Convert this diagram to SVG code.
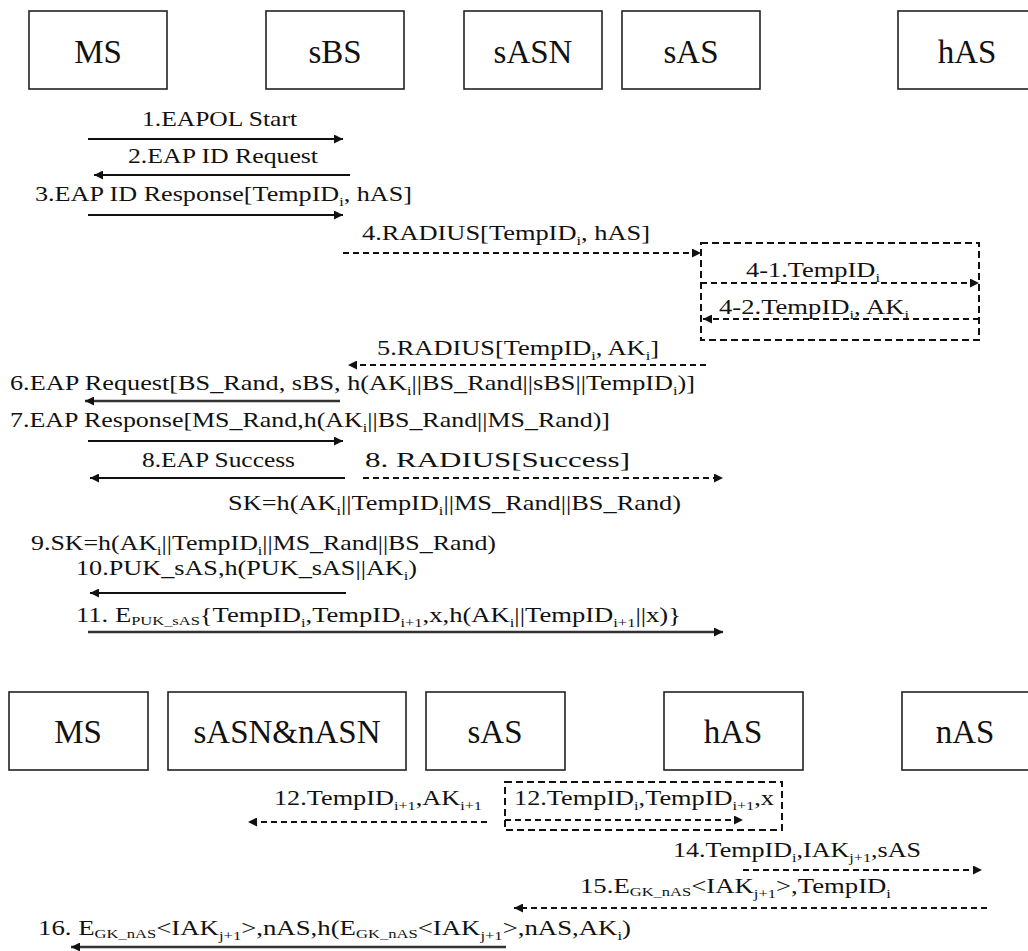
<svg xmlns="http://www.w3.org/2000/svg" width="1028" height="951" viewBox="0 0 1028 951">
<defs>
<marker id="ah" viewBox="0 0 10 10" refX="10" refY="5" markerWidth="11" markerHeight="9" markerUnits="userSpaceOnUse" orient="auto"><path d="M0,0 L10,5 L0,10 z" fill="#111"/></marker>
<style>
text{font-family:'Liberation Serif','DejaVu Serif','Times New Roman',serif}
.box{fill:#fff;stroke:#222;stroke-width:1.6}
.lbl{font-size:33px;fill:#111;text-anchor:middle}
.msg{font-size:21px;fill:#111}
.sub{font-size:13px}
.sc{font-size:13px}
.solid{stroke:#111;stroke-width:2;fill:none;marker-end:url(#ah)}
.thick{stroke:#333;stroke-width:2.6}
.dash{stroke:#111;stroke-width:2;fill:none;stroke-dasharray:6 4;marker-end:url(#ah)}
.dbox{fill:none;stroke:#111;stroke-width:2;stroke-dasharray:7 4}
</style>
</defs>
<rect width="1028" height="951" fill="#fff"/>

<g id="top-MS"><rect class="box" x="29" y="11" width="138" height="78"/><text class="lbl" x="98" y="63">MS</text></g>
<g id="top-sBS"><rect class="box" x="266" y="11" width="138" height="78"/><text class="lbl" x="335" y="63">sBS</text></g>
<g id="top-sASN"><rect class="box" x="464" y="11" width="138" height="78"/><text class="lbl" x="533" y="63">sASN</text></g>
<g id="top-sAS"><rect class="box" x="622" y="11" width="138" height="78"/><text class="lbl" x="691" y="63">sAS</text></g>
<g id="top-hAS"><rect class="box" x="898" y="11" width="138" height="78"/><text class="lbl" x="967" y="63">hAS</text></g>

<g id="bot-MS"><rect class="box" x="9" y="692" width="139" height="78"/><text class="lbl" x="78" y="743">MS</text></g>
<g id="bot-sASNnASN"><rect class="box" x="168" y="692" width="238" height="78"/><text class="lbl" x="287" y="743">sASN&amp;nASN</text></g>
<g id="bot-sAS"><rect class="box" x="426" y="692" width="139" height="78"/><text class="lbl" x="495" y="743">sAS</text></g>
<g id="bot-hAS"><rect class="box" x="664" y="692" width="139" height="78"/><text class="lbl" x="733" y="743">hAS</text></g>
<g id="bot-nAS"><rect class="box" x="902" y="692" width="139" height="78"/><text class="lbl" x="965" y="743">nAS</text></g>

<g id="groups">
<rect class="dbox" x="701" y="243" width="278" height="97"/>
<rect class="dbox" x="505" y="782" width="277" height="48"/>
</g>

<g id="connectors">
<line class="solid" x1="88" y1="139" x2="343" y2="139"/>
<line class="solid" x1="350" y1="175" x2="94" y2="175"/>
<line class="solid" x1="88" y1="215" x2="343" y2="215"/>
<line class="dash" x1="343" y1="253" x2="701" y2="253"/>
<line class="dash" x1="701" y1="283" x2="979" y2="283"/>
<line class="dash" x1="979" y1="319" x2="703" y2="319"/>
<line class="dash" x1="706" y1="365" x2="348" y2="365"/>
<line class="solid thick" x1="340" y1="401" x2="85" y2="401"/>
<line class="solid" x1="88" y1="441" x2="343" y2="441"/>
<line class="solid" x1="345" y1="478" x2="90" y2="478"/>
<line class="dash" x1="363" y1="478" x2="723" y2="478"/>
<line class="solid" x1="346" y1="593" x2="90" y2="593"/>
<line class="solid thick" x1="88" y1="632" x2="723" y2="632"/>
<line class="dash" x1="487" y1="822" x2="248" y2="822"/>
<line class="dash" x1="505" y1="820" x2="743" y2="820"/>
<line class="dash" x1="743" y1="870" x2="982" y2="870"/>
<line class="dash" x1="987" y1="908" x2="514" y2="908"/>
<line class="solid thick" x1="506" y1="947" x2="71" y2="947"/>
</g>

<g id="labels">
<text class="msg" x="142" y="126" textLength="155" lengthAdjust="spacingAndGlyphs">1.EAPOL Start</text>
<text class="msg" x="128" y="163" textLength="190" lengthAdjust="spacingAndGlyphs">2.EAP ID Request</text>
<text class="msg" x="35" y="201" textLength="377" lengthAdjust="spacingAndGlyphs">3.EAP ID Response[TempID<tspan class="sub" dy="5">i</tspan><tspan dy="-5">, hAS]</tspan></text>
<text class="msg" x="362" y="240" textLength="288" lengthAdjust="spacingAndGlyphs">4.RADIUS[TempID<tspan class="sub" dy="5">i</tspan><tspan dy="-5">, hAS]</tspan></text>
<text class="msg" x="746" y="277" textLength="134" lengthAdjust="spacingAndGlyphs">4-1.TempID<tspan class="sub" dy="5">i</tspan></text>
<text class="msg" x="719" y="314" textLength="190" lengthAdjust="spacingAndGlyphs">4-2.TempID<tspan class="sub" dy="5">i</tspan><tspan dy="-5">, AK</tspan><tspan class="sub" dy="5">i</tspan></text>
<text class="msg" x="377" y="355" textLength="282" lengthAdjust="spacingAndGlyphs">5.RADIUS[TempID<tspan class="sub" dy="5">i</tspan><tspan dy="-5">, AK</tspan><tspan class="sub" dy="5">i</tspan><tspan dy="-5">]</tspan></text>
<text class="msg" x="10" y="390" textLength="685" lengthAdjust="spacingAndGlyphs">6.EAP Request[BS_Rand, sBS, h(AK<tspan class="sub" dy="5">i</tspan><tspan dy="-5">||BS_Rand||sBS||TempID</tspan><tspan class="sub" dy="5">i</tspan><tspan dy="-5">)]</tspan></text>
<text class="msg" x="10" y="427" textLength="600" lengthAdjust="spacingAndGlyphs">7.EAP Response[MS_Rand,h(AK<tspan class="sub" dy="5">i</tspan><tspan dy="-5">||BS_Rand||MS_Rand)]</tspan></text>
<text class="msg" x="142" y="467" textLength="153" lengthAdjust="spacingAndGlyphs">8.EAP Success</text>
<text class="msg" x="365" y="467" textLength="265" lengthAdjust="spacingAndGlyphs">8. RADIUS[Success]</text>
<text class="msg" x="228" y="510" textLength="453" lengthAdjust="spacingAndGlyphs">SK=h(AK<tspan class="sub" dy="5">i</tspan><tspan dy="-5">||TempID</tspan><tspan class="sub" dy="5">i</tspan><tspan dy="-5">||MS_Rand||BS_Rand)</tspan></text>
<text class="msg" x="31" y="550" textLength="465" lengthAdjust="spacingAndGlyphs">9.SK=h(AK<tspan class="sub" dy="5">i</tspan><tspan dy="-5">||TempID</tspan><tspan class="sub" dy="5">i</tspan><tspan dy="-5">||MS_Rand||BS_Rand)</tspan></text>
<text class="msg" x="76" y="575" textLength="341" lengthAdjust="spacingAndGlyphs">10.PUK_sAS,h(PUK_sAS||AK<tspan class="sub" dy="5">i</tspan><tspan dy="-5">)</tspan></text>
<text class="msg" x="76" y="622" textLength="605" lengthAdjust="spacingAndGlyphs">11. E<tspan class="sc" dy="3">PUK_sAS</tspan><tspan dy="-3">{TempID</tspan><tspan class="sub" dy="5">i</tspan><tspan dy="-5">,TempID</tspan><tspan class="sub" dy="5">i+1</tspan><tspan dy="-5">,x,h(AK</tspan><tspan class="sub" dy="5">i</tspan><tspan dy="-5">||TempID</tspan><tspan class="sub" dy="5">i+1</tspan><tspan dy="-5">||x)}</tspan></text>
<text class="msg" x="274" y="805" textLength="208" lengthAdjust="spacingAndGlyphs">12.TempID<tspan class="sub" dy="5">i+1</tspan><tspan dy="-5">,AK</tspan><tspan class="sub" dy="5">i+1</tspan></text>
<text class="msg" x="514" y="805" textLength="260" lengthAdjust="spacingAndGlyphs">12.TempID<tspan class="sub" dy="5">i</tspan><tspan dy="-5">,TempID</tspan><tspan class="sub" dy="5">i+1</tspan><tspan dy="-5">,x</tspan></text>
<text class="msg" x="673" y="857" textLength="248" lengthAdjust="spacingAndGlyphs">14.TempID<tspan class="sub" dy="5">i</tspan><tspan dy="-5">,IAK</tspan><tspan class="sub" dy="5">j+1</tspan><tspan dy="-5">,sAS</tspan></text>
<text class="msg" x="580" y="893" textLength="311" lengthAdjust="spacingAndGlyphs">15.E<tspan class="sc" dy="3">GK_nAS</tspan><tspan dy="-3">&lt;IAK</tspan><tspan class="sub" dy="5">j+1</tspan><tspan dy="-5">&gt;,TempID</tspan><tspan class="sub" dy="5">i</tspan></text>
<text class="msg" x="38" y="935" textLength="593" lengthAdjust="spacingAndGlyphs">16. E<tspan class="sc" dy="3">GK_nAS</tspan><tspan dy="-3">&lt;IAK</tspan><tspan class="sub" dy="5">j+1</tspan><tspan dy="-5">&gt;,nAS,h(E</tspan><tspan class="sc" dy="3">GK_nAS</tspan><tspan dy="-3">&lt;IAK</tspan><tspan class="sub" dy="5">j+1</tspan><tspan dy="-5">&gt;,nAS,AK</tspan><tspan class="sub" dy="5">i</tspan><tspan dy="-5">)</tspan></text>
</g>
</svg>
